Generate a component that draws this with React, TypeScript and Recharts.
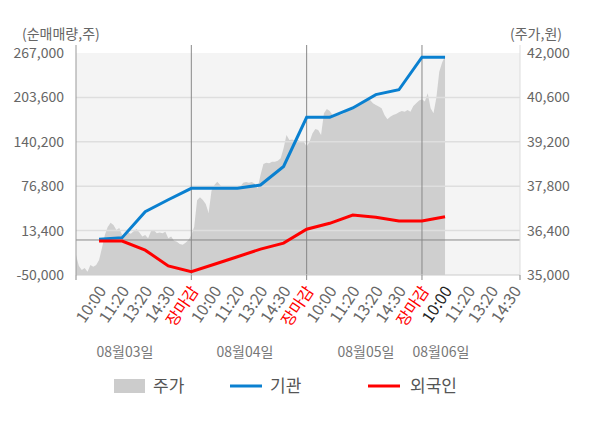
import { ComposedChart, Area, Line, XAxis, YAxis, ReferenceLine, ReferenceArea, Customized } from "recharts"

// 주가 (one value every 1/8 of a label step, 40 per trading day)
const PRICE_DAY1 = [
  35630, 35280, 35160, 35220, 35100, 35315, 35260, 35315, 35470, 35850,
  36260, 36510, 36650, 36580, 36420, 36480, 36260, 36210, 36340, 36300,
  36380, 36450, 36340, 36210, 36260, 36160, 36380, 36420, 36320, 36340,
  36320, 36360, 36160, 36210, 36080, 36050, 35980, 35950, 36020, 36100,
]
const PRICE_DAY2 = [
  36250, 36525, 37360, 37450, 37365, 37240, 36955, 37660, 37840, 37940,
  37840, 37710, 37710, 37710, 37710, 37730, 37730, 37790, 37910, 37930,
  37910, 37930, 37880, 37730, 38150, 38500, 38540, 38520, 38570, 38570,
  38600, 38680, 39000, 39415, 39260, 39270, 39230, 39260, 39200, 39200,
]
const PRICE_DAY3 = [
  39050, 39200, 39460, 39600, 39570, 39415, 40100, 40235, 40170, 40045,
  40020, 40045, 40060, 40100, 40200, 40255, 40260, 40310, 40360, 40400,
  40465, 40520, 40520, 40415, 40360, 40310, 40260, 40045, 39910, 39990,
  40045, 40080, 40130, 40170, 40150, 40200, 40150, 40330, 40415, 40500,
]
const PRICE_DAY4 = [40540, 40470, 40730, 40255, 40100, 40600, 41410, 41700, 41900]

// 순매매량 at each time label (10:00 of 08/03 .. 10:00 of 08/06)
const INSTITUTION = [
  1000, 3300, 40400, 57500, 73800, 73800, 74000, 78500,
  105000, 175200, 175200, 188500, 207500, 214500, 261000, 261000,
]
const FOREIGN = [
  -1500, -1500, -14500, -37000, -45300, -34700, -24000, -13000,
  -4500, 15300, 23800, 35700, 32400, 27100, 27100, 33300,
]

const TIME_LABELS = ["10:00", "11:20", "13:20", "14:30", "장마감"]
const DATE_LABELS = ["08월03일", "08월04일", "08월05일", "08월06일"]
const LEFT_TICKS = [-50000, 13400, 76800, 140200, 203600, 267000]
const RIGHT_TICKS = [35000, 36400, 37800, 39200, 40600, 42000]

const X_MAX = 19.25
const FONT = "'Noto Sans CJK KR', 'Noto Sans', sans-serif"

const chartData: Record<string, number>[] = []
;[PRICE_DAY1, PRICE_DAY2, PRICE_DAY3, PRICE_DAY4].forEach((prices, d) => {
  prices.forEach((p, i) => {
    const x = d * 5 + i / 8
    const row: Record<string, number> = { x, price: p }
    if (Number.isInteger(x) && x >= 1 && x <= INSTITUTION.length) {
      row.inst = INSTITUTION[x - 1]
      row.foreign = FOREIGN[x - 1]
    }
    chartData.push(row)
  })
})

const xTicks = [...Array.from({ length: 20 }, (_, i) => i), X_MAX]

// eslint-disable-next-line @typescript-eslint/no-explicit-any
function TimeTick({ x, y, payload }: any) {
  const v = payload.value as number
  const mark = v % 5 === 0 || v === X_MAX
  const isLabel = Number.isInteger(v) && v >= 1 && v <= 19
  const color = v % 5 === 0 ? "#ff0000" : v === 16 ? "#222" : "#666"
  const ax = x + 2
  const ay = y + 12
  return (
    <g>
      {mark && <line x1={x} x2={x} y1={y} y2={y + 5} stroke="#888" />}
      {isLabel && (
        <text
          x={ax}
          y={ay}
          textAnchor="end"
          dominantBaseline="central"
          transform={`rotate(-56 ${ax} ${ay})`}
          fontSize={16}
          fontFamily={FONT}
          fill={color}
        >
          {TIME_LABELS[(v - 1) % 5]}
        </text>
      )}
    </g>
  )
}

function Extras() {
  const dateX = [125, 245, 366, 441]
  return (
    <g fontFamily={FONT}>
      <text x={22} y={39} fontSize={14} fill="#666">(순매매량,주)</text>
      <text x={510} y={39} fontSize={14} fill="#666">(주가,원)</text>
      {DATE_LABELS.map((d, i) => (
        <text key={d} x={dateX[i]} y={357} fontSize={14} fill="#777" textAnchor="middle">
          {d}
        </text>
      ))}
      <rect x={114} y={379} width={31} height={14} fill="#cccccc" />
      <text x={153} y={392} fontSize={17} fill="#555">주가</text>
      <line x1={230} x2={262} y1={386} y2={386} stroke="#0a80d0" strokeWidth={3} />
      <text x={270} y={392} fontSize={17} fill="#555">기관</text>
      <line x1={368} x2={400} y1={386} y2={386} stroke="#ff0000" strokeWidth={3} />
      <text x={410} y={392} fontSize={17} fill="#555">외국인</text>
    </g>
  )
}

export default function App() {
  const tickStyle = { fontSize: 14, fill: "#666", fontFamily: FONT }
  return (
    <div style={{ position: "absolute", left: 0, top: 0, width: 600, height: 428, background: "#fff" }}>
      <ComposedChart
        width={600}
        height={428}
        data={chartData}
        margin={{ top: 45, right: 0, bottom: 93, left: 0 }}
      >
        <XAxis
          dataKey="x"
          type="number"
          domain={[0, X_MAX]}
          ticks={xTicks}
          interval={0}
          tick={<TimeTick />}
          tickLine={false}
          tickSize={0}
          tickMargin={0}
          height={60}
          stroke="#cccccc"
        />
        <YAxis
          yAxisId="left"
          orientation="left"
          width={76}
          domain={[-50000, 278400]}
          ticks={LEFT_TICKS}
          interval={0}
          allowDataOverflow
          tickLine={false}
          tickSize={0}
          tickMargin={12}
          tick={tickStyle}
          tickFormatter={(v: number) => v.toLocaleString("en-US")}
          stroke="#999999"
        />
        <YAxis
          yAxisId="right"
          orientation="right"
          width={80}
          domain={[35000, 42252]}
          ticks={RIGHT_TICKS}
          interval={0}
          allowDataOverflow
          tickLine={false}
          tickSize={0}
          tickMargin={7}
          tick={tickStyle}
          tickFormatter={(v: number) => v.toLocaleString("en-US")}
          stroke="#dddddd"
        />
        <ReferenceArea
          yAxisId="left"
          x1={0}
          x2={X_MAX}
          y1={-50000}
          y2={267000}
          fill="#f4f4f4"
          fillOpacity={1}
          stroke="none"
        />
        <Area
          yAxisId="right"
          dataKey="price"
          type="linear"
          fill="#cfcfcf"
          fillOpacity={1}
          stroke="none"
          isAnimationActive={false}
          activeDot={false}
        />
        {LEFT_TICKS.slice(1, 5).map((t) => (
          <ReferenceLine key={t} yAxisId="left" y={t} stroke="#dedede" strokeWidth={1.5} />
        ))}
        <ReferenceLine yAxisId="left" y={0} stroke="#888" />
        {[5, 10, 15].map((t) => (
          <ReferenceLine key={t} yAxisId="left" x={t} stroke="#888" />
        ))}
        <Line
          yAxisId="left"
          dataKey="inst"
          type="linear"
          stroke="#0a80d0"
          strokeWidth={3}
          dot={false}
          connectNulls
          isAnimationActive={false}
        />
        <Line
          yAxisId="left"
          dataKey="foreign"
          type="linear"
          stroke="#ff0000"
          strokeWidth={3}
          dot={false}
          connectNulls
          isAnimationActive={false}
        />
        <Customized component={Extras} />
      </ComposedChart>
    </div>
  )
}
